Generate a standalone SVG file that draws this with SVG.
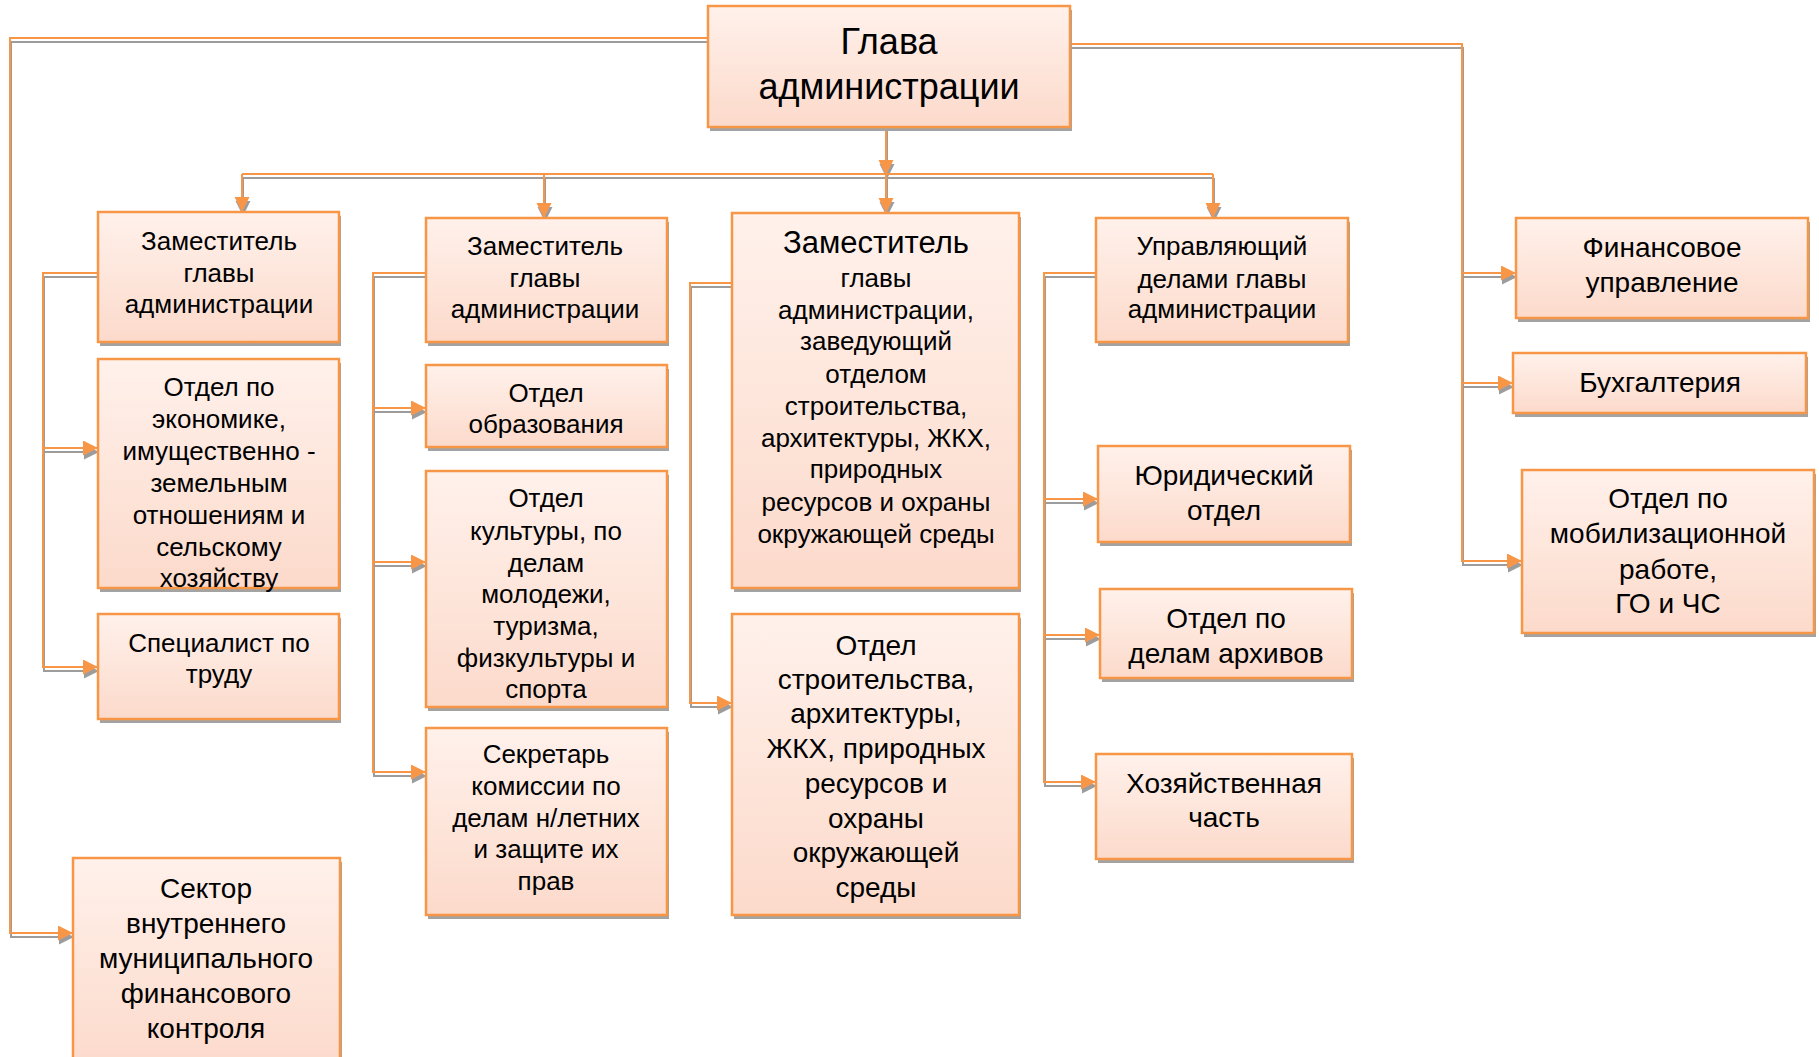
<svg xmlns="http://www.w3.org/2000/svg" width="1819" height="1057" viewBox="0 0 1819 1057">
<defs>
<linearGradient id="g" x1="0" y1="0" x2="0" y2="1"><stop offset="0" stop-color="#FFF1EB"/><stop offset="1" stop-color="#FCDACB"/></linearGradient>
<filter id="ls" filterUnits="userSpaceOnUse" x="0" y="0" width="1819" height="1057">
<feFlood flood-color="#9C9C9C"/>
<feComposite in2="SourceAlpha" operator="in"/>
<feOffset dx="1" dy="4" result="s"/>
<feMerge><feMergeNode in="s"/><feMergeNode in="SourceGraphic"/></feMerge>
</filter>
<marker id="ah" markerUnits="userSpaceOnUse" markerWidth="16" markerHeight="16" refX="15" refY="7.5" orient="auto" viewBox="0 0 16 16"><path d="M0,0 L15,7.5 L0,15 z" fill="#F79646"/></marker>
<style>
.box{fill:url(#g);stroke:#F79646;stroke-width:2.5}
.sh{fill:#A3A3A3}
.t{font-family:"Liberation Sans",Arial,sans-serif;font-size:26px;text-anchor:middle;fill:#000}
.m{font-size:28px}
.c{fill:none;stroke:#F79646;stroke-width:2}
.a{marker-end:url(#ah)}
</style>
</defs>
<rect width="1819" height="1057" fill="#fff"/>
<g id="connectors" filter="url(#ls)">
<path class="c a" d="M708,38 H10 V933 H73"/>
<path class="c a" d="M1070,44 H1462 V561 H1522"/>
<path class="c a" d="M1462,273 H1516"/>
<path class="c a" d="M1462,383 H1513"/>
<path class="c a" d="M886,127 V175"/>
<path class="c a" d="M886,174 V213"/>
<path class="c" d="M242,174 H1213"/>
<path class="c a" d="M242,174 V212"/>
<path class="c a" d="M544,174 V218"/>
<path class="c a" d="M1213,174 V218"/>
<path class="c a" d="M98,273 H43 V667 H98"/>
<path class="c a" d="M43,448 H98"/>
<path class="c a" d="M426,273 H373 V772 H426"/>
<path class="c a" d="M373,408 H426"/>
<path class="c a" d="M373,562 H426"/>
<path class="c a" d="M732,283 H690 V703 H732"/>
<path class="c a" d="M1096,273 H1044 V782 H1096"/>
<path class="c a" d="M1044,499 H1098"/>
<path class="c a" d="M1044,635 H1100"/>
</g>
<g id="glava">
<rect class="sh" x="710" y="10" width="362" height="121"/>
<rect class="box" x="708" y="6" width="362" height="121"/>
<text class="t" font-size="36" style="font-size:36px" x="889" y="54">Глава</text>
<text class="t" style="font-size:36px" x="889" y="99">администрации</text>
</g>
<g id="zam1">
<rect class="sh" x="100" y="216" width="241" height="130"/>
<rect class="box" x="98" y="212" width="241" height="130"/>
<text class="t" x="219" y="250">Заместитель</text>
<text class="t" x="219" y="282">главы</text>
<text class="t" x="219" y="313">администрации</text>
</g>
<g id="econ">
<rect class="sh" x="100" y="363" width="241" height="229"/>
<rect class="box" x="98" y="359" width="241" height="229"/>
<text class="t" x="219" y="396">Отдел по</text>
<text class="t" x="219" y="428">экономике,</text>
<text class="t" x="219" y="460">имущественно -</text>
<text class="t" x="219" y="492">земельным</text>
<text class="t" x="219" y="524">отношениям и</text>
<text class="t" x="219" y="556">сельскому</text>
<text class="t" x="219" y="587">хозяйству</text>
</g>
<g id="trud">
<rect class="sh" x="100" y="618" width="241" height="105"/>
<rect class="box" x="98" y="614" width="241" height="105"/>
<text class="t" x="219" y="652">Специалист по</text>
<text class="t" x="219" y="683">труду</text>
</g>
<g id="sector">
<rect class="sh" x="75" y="862" width="267" height="210"/>
<rect class="box" x="73" y="858" width="267" height="210"/>
<text class="t m" x="206" y="898">Сектор</text>
<text class="t m" x="206" y="933">внутреннего</text>
<text class="t m" x="206" y="968">муниципального</text>
<text class="t m" x="206" y="1003">финансового</text>
<text class="t m" x="206" y="1038">контроля</text>
</g>
<g id="zam2">
<rect class="sh" x="428" y="222" width="241" height="124"/>
<rect class="box" x="426" y="218" width="241" height="124"/>
<text class="t" x="545" y="255">Заместитель</text>
<text class="t" x="545" y="287">главы</text>
<text class="t" x="545" y="318">администрации</text>
</g>
<g id="obraz">
<rect class="sh" x="428" y="369" width="241" height="82"/>
<rect class="box" x="426" y="365" width="241" height="82"/>
<text class="t" x="546" y="402">Отдел</text>
<text class="t" x="546" y="433">образования</text>
</g>
<g id="kult">
<rect class="sh" x="428" y="475" width="241" height="236"/>
<rect class="box" x="426" y="471" width="241" height="236"/>
<text class="t" x="546" y="507">Отдел</text>
<text class="t" x="546" y="540">культуры, по</text>
<text class="t" x="546" y="572">делам</text>
<text class="t" x="546" y="603">молодежи,</text>
<text class="t" x="546" y="635">туризма,</text>
<text class="t" x="546" y="667">физкультуры и</text>
<text class="t" x="546" y="698">спорта</text>
</g>
<g id="sekr">
<rect class="sh" x="428" y="732" width="241" height="187"/>
<rect class="box" x="426" y="728" width="241" height="187"/>
<text class="t" x="546" y="763">Секретарь</text>
<text class="t" x="546" y="795">комиссии по</text>
<text class="t" x="546" y="827">делам н/летних</text>
<text class="t" x="546" y="858">и защите их</text>
<text class="t" x="546" y="890">прав</text>
</g>
<g id="zam3">
<rect class="sh" x="734" y="217" width="287" height="375"/>
<rect class="box" x="732" y="213" width="287" height="375"/>
<text class="t" style="font-size:31px" x="876" y="253">Заместитель</text>
<text class="t" x="876" y="287">главы</text>
<text class="t" x="876" y="319">администрации,</text>
<text class="t" x="876" y="350">заведующий</text>
<text class="t" x="876" y="383">отделом</text>
<text class="t" x="876" y="415">строительства,</text>
<text class="t" x="876" y="447">архитектуры, ЖКХ,</text>
<text class="t" x="876" y="478">природных</text>
<text class="t" x="876" y="511">ресурсов и охраны</text>
<text class="t" x="876" y="543">окружающей среды</text>
</g>
<g id="stroy">
<rect class="sh" x="734" y="618" width="287" height="301"/>
<rect class="box" x="732" y="614" width="287" height="301"/>
<text class="t m" x="876" y="655">Отдел</text>
<text class="t m" x="876" y="689">строительства,</text>
<text class="t m" x="876" y="723">архитектуры,</text>
<text class="t m" x="876" y="758">ЖКХ, природных</text>
<text class="t m" x="876" y="793">ресурсов и</text>
<text class="t m" x="876" y="828">охраны</text>
<text class="t m" x="876" y="862">окружающей</text>
<text class="t m" x="876" y="897">среды</text>
</g>
<g id="uprav">
<rect class="sh" x="1098" y="222" width="252" height="124"/>
<rect class="box" x="1096" y="218" width="252" height="124"/>
<text class="t" x="1222" y="255">Управляющий</text>
<text class="t" x="1222" y="288">делами главы</text>
<text class="t" x="1222" y="318">администрации</text>
</g>
<g id="yur">
<rect class="sh" x="1100" y="450" width="252" height="96"/>
<rect class="box" x="1098" y="446" width="252" height="96"/>
<text class="t m" x="1224" y="485">Юридический</text>
<text class="t m" x="1224" y="520">отдел</text>
</g>
<g id="arhiv">
<rect class="sh" x="1102" y="593" width="252" height="89"/>
<rect class="box" x="1100" y="589" width="252" height="89"/>
<text class="t m" x="1226" y="628">Отдел по</text>
<text class="t m" x="1226" y="663">делам архивов</text>
</g>
<g id="hoz">
<rect class="sh" x="1098" y="758" width="256" height="105"/>
<rect class="box" x="1096" y="754" width="256" height="105"/>
<text class="t m" x="1224" y="793">Хозяйственная</text>
<text class="t m" x="1224" y="827">часть</text>
</g>
<g id="fin">
<rect class="sh" x="1518" y="222" width="292" height="100"/>
<rect class="box" x="1516" y="218" width="292" height="100"/>
<text class="t m" x="1662" y="257">Финансовое</text>
<text class="t m" x="1662" y="292">управление</text>
</g>
<g id="buh">
<rect class="sh" x="1515" y="357" width="293" height="60"/>
<rect class="box" x="1513" y="353" width="293" height="60"/>
<text class="t m" x="1660" y="392">Бухгалтерия</text>
</g>
<g id="mob">
<rect class="sh" x="1524" y="474" width="292" height="163"/>
<rect class="box" x="1522" y="470" width="292" height="163"/>
<text class="t m" x="1668" y="508">Отдел по</text>
<text class="t m" x="1668" y="543">мобилизационной</text>
<text class="t m" x="1668" y="579">работе,</text>
<text class="t m" x="1668" y="613">ГО и ЧС</text>
</g>
</svg>
